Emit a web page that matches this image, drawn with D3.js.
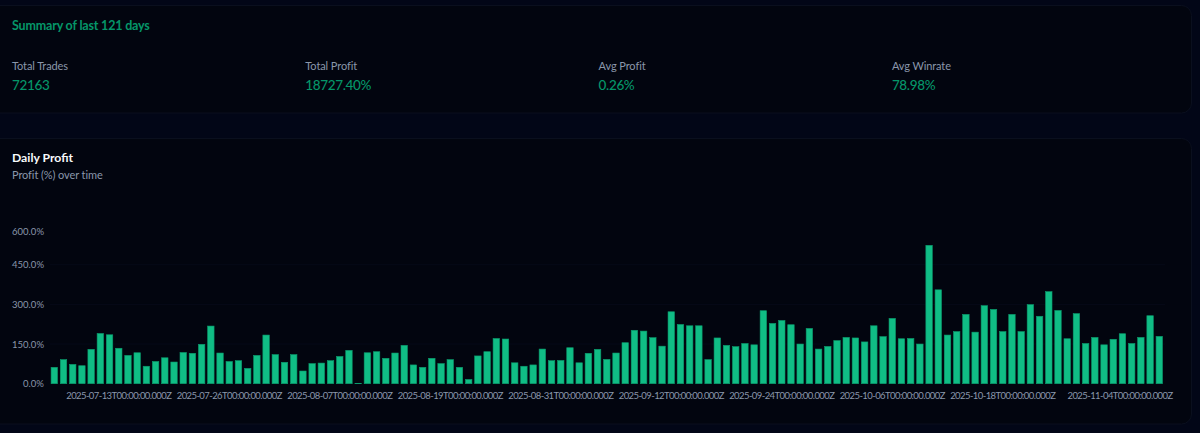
<!DOCTYPE html>
<html><head><meta charset="utf-8">
<script src="https://d3js.org/d3.v7.min.js"></script>
<style>
html,body{margin:0;padding:0;background:#020617;overflow:hidden}
text{font-family:"Lato",sans-serif}
</style></head><body><svg id="c" width="1200" height="433"></svg>
<script>
const profits=[62,91,73,68,130,190,185,134,107,117,66,84,98,82,118,115,149,218,116,84,87,58,107,184,110,81,110,48,76,78,87,103,126,1.5,117,121,96,116,
145,71,62,96,76,91,62,16,105,121,171,169,79,66,71,131,87,88,136,79,115,130,92,116,155,202,199,174,142,272,224,219,219,91,173,145,140,152,147,276,228,239,223,150,
209,131,141,163,175,173,158,219,178,247,170,171,150,538,355,184,197,262,195,295,281,197,262,197,299,255,348,277,170,265,152,175,147,168,189,152,175,257,179];
const tickDays=[7,19,31,43,55,67,79,91,103,116];
const tickDates=["2025-07-13T00:00:00.000Z","2025-07-26T00:00:00.000Z","2025-08-07T00:00:00.000Z","2025-08-19T00:00:00.000Z","2025-08-31T00:00:00.000Z","2025-09-12T00:00:00.000Z","2025-09-24T00:00:00.000Z","2025-10-06T00:00:00.000Z","2025-10-18T00:00:00.000Z","2025-11-04T00:00:00.000Z"];
const yTicks=[0,150,300,450,600];
const statLabels=["Total Trades","Total Profit","Avg Profit","Avg Winrate"];
const statValues=["72163","18727.40%","0.26%","78.98%"];

const svg=d3.select("#c");
const cardFill="#02050f",cardStroke="#0a0f1e";
svg.append("rect").attr("x",-12).attr("y",5.5).attr("width",1203.5).attr("height",107.5).attr("rx",10).attr("fill",cardFill).attr("stroke",cardStroke);
svg.append("rect").attr("x",-12).attr("y",138.5).attr("width",1203.5).attr("height",285.5).attr("rx",10).attr("fill",cardFill).attr("stroke",cardStroke);

const green="#059669",muted="#8a97ab";
svg.append("text").attr("x",12).attr("y",29.5).attr("font-size",12.5).attr("letter-spacing",-0.18).attr("font-weight",700).attr("fill",green).text("Summary of last 121 days");
const statX=d3.scaleLinear().domain([0,1]).range([12,305.3]);
statLabels.forEach((l,i)=>{
  svg.append("text").attr("x",statX(i)).attr("y",70).attr("font-size",11).attr("letter-spacing",-0.1).attr("fill",muted).text(l);
  svg.append("text").attr("x",statX(i)).attr("y",90).attr("font-size",13.5).attr("letter-spacing",-0.35).attr("font-weight",500).attr("fill",green).text(statValues[i]);
});
svg.append("text").attr("x",12).attr("y",162).attr("font-size",12.2).attr("font-weight",700).attr("fill","#f8fafc").text("Daily Profit");
svg.append("text").attr("x",12).attr("y",179).attr("font-size",11).attr("letter-spacing",-0.1).attr("fill",muted).text("Profit (%) over time");

const x=d3.scaleBand().domain(d3.range(profits.length)).range([49.7,1163.9]).paddingInner(0.3).paddingOuter(0.15);
const y=d3.scaleLinear().domain([0,450,600]).range([383.7,264.7,231.7]);

svg.append("g").selectAll("line").data(yTicks.slice(1,4)).join("line")
  .attr("x1",49.7).attr("x2",1165).attr("y1",d=>y(d)).attr("y2",d=>y(d)).attr("stroke","#060a18");

svg.append("g").selectAll("rect").data(profits).join("rect")
  .attr("x",(d,i)=>x(i)).attr("width",x.bandwidth())
  .attr("y",d=>y(d)).attr("height",d=>y(0)-y(d))
  .attr("fill","#10bd85").attr("stroke","#0b9a6c").attr("stroke-width",0.6);

const yAxis=d3.axisLeft(y).tickValues(yTicks).tickSize(0).tickPadding(0).tickFormat(d=>d.toFixed(1)+"%");
const gy=svg.append("g").attr("transform","translate(44,0)").call(yAxis);
gy.select(".domain").remove();
gy.selectAll("text").attr("font-size",9.5).attr("fill",muted).attr("dy","0.32em");

const xAxis=d3.axisBottom(x).tickValues(tickDays).tickSize(0).tickPadding(0).tickFormat(d=>tickDates[tickDays.indexOf(d)]);
const gx=svg.append("g").attr("transform","translate(0,392.5)").call(xAxis);
gx.select(".domain").remove();
gx.selectAll("text").attr("font-size",9.5).attr("letter-spacing",-0.58).attr("fill",muted).attr("dy","0.71em")
  .attr("dx",d=>d===tickDays[tickDays.length-1]?-2.4:0);
</script></body></html>
